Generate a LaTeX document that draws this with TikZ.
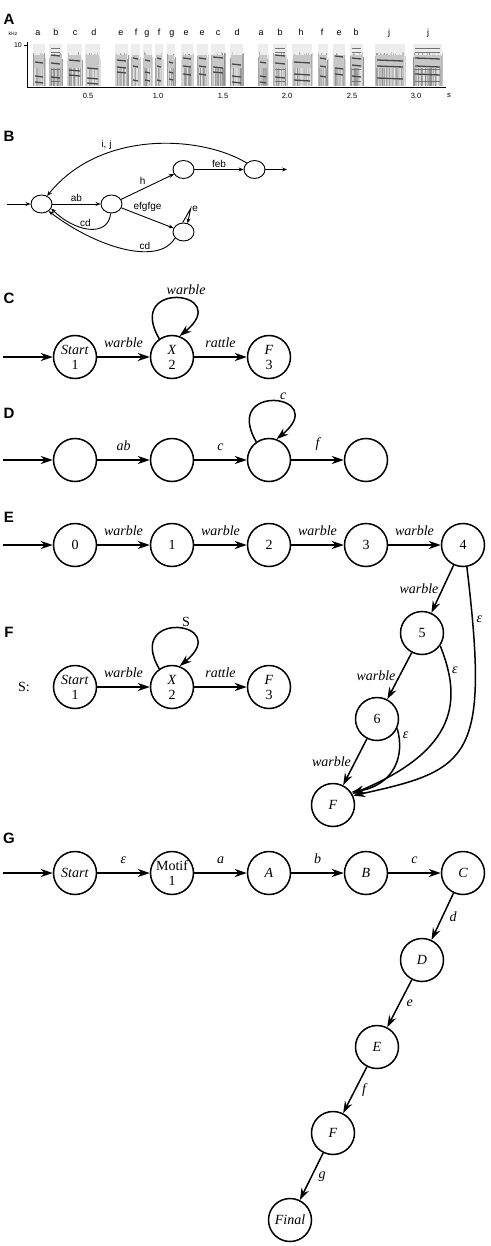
\documentclass[tikz,border=0pt]{standalone}
\usepackage{fontspec}
\setmainfont{Liberation Serif}
\setsansfont{Liberation Sans}
\usetikzlibrary{shapes,shapes.geometric,calc,positioning,arrows.meta}

\begin{document}
\begin{tikzpicture}
	[x=1pt,y=-1pt,
	state/.style={shape=circle,draw,line width=1.5pt,minimum size=43pt,inner sep=0pt,align=center,font=\fontsize{14}{15}\selectfont},
	trans/.style={-{Stealth[length=12pt,width=8pt,inset=4pt]},line width=1.5pt},
	lbl/.style={font=\fontsize{14}{15}\selectfont\itshape},
	bstate/.style={shape=ellipse,draw,line width=0.9pt,minimum width=21pt,minimum height=18pt,inner sep=0pt},
	btrans/.style={-{Stealth[length=5pt,width=4pt]},line width=0.9pt},
	blbl/.style={font=\sffamily\fontsize{10}{10}\selectfont,inner sep=1.5pt},
	blift/.style={above=4pt},
	panel/.style={font=\sffamily\bfseries\fontsize{15}{15}\selectfont}]
	\useasboundingbox (0,0) rectangle (490,1246);

	% A: spectrogram
	\node[panel] (pA) at (9,19) {A};
	\pgfmathsetseed{7}
	\foreach \xa/\xb/\ya/\yb/\yc in {33/45/62/76/82,49/62/55/63/77,67/82/60/70/75,85/100/68/78/83,
		115/128/60/67/72,131/140/58/66/80,143/152/60/72/80,155/163/58/66/80,167/175/62/72/79,
		181/193/58/66/74,197/208/58/66/74,211/225/57/67/72,230/243/64/76/82,258/268/62/76/82,
		273/287/55/63/77,292/312/62/74/80,318/328/58/66/76,333/345/56/68/74,350/363/58/65/76,
		375/405/60/66/78,413/442/58/66/74}{
		\fill[gray!14] (\xa,44) rectangle (\xb,86);
		\foreach \xx in {\xa,...,\xb}{
			\pgfmathsetmacro\gv{int(10+35*rnd)}
			\pgfmathsetmacro\gt{52+8*rnd}
			\draw[black!\gv,line width=0.9pt] (\xx,\gt) -- (\xx,86);
		}
		\fill[black!22] (\xa+1,55) rectangle (\xb-1,68);
		\foreach \yy in {\ya,\yb,\yc}
			\draw[black!72,line width=1.3pt] (\xa+2,\yy) -- (\xb-2,\yy+1);
	}
	\foreach \xa/\xb in {49/62,273/287,350/363,413/442}
		\foreach \yy in {48,52,69,81}
			\draw[black!55,line width=0.8pt] (\xa+2,\yy) -- (\xb-2,\yy);
	\draw[line width=1pt] (27,42) -- (27,88) -- (446,88);
	\draw (24,45) -- (27,45);
	\node[font=\sffamily\fontsize{7}{7}\selectfont] (k10) at (18,45) {10};
	\node[font=\sffamily\fontsize{5}{5}\selectfont] (khz) at (13,34) {kHz};
	\foreach \x/\t in {88/0.5,158/1.0,223/1.5,287/2.0,352/2.5,416/3.0,449/s}
		\node[font=\sffamily\fontsize{7.5}{7.5}\selectfont] at (\x,96) {\t};
	\foreach \x/\t in {38/a,56/b,75/c,94/d,121/e,136/f,147/g,159/f,172/g,186/e,202/e,218/c,237/d,
		261/a,280/b,301/h,322/f,339/e,356/b,389/j,428/j}
		\node[font=\sffamily\fontsize{9}{9}\selectfont,anchor=base] at (\x,35.5) {\t};

	% B
	\node[panel] (pB) at (9,136) {B};
	\node[bstate] (b0) at (41.5,204) {};
	\node[bstate] (b1) at (111.5,204) {};
	\node[bstate] (b2) at (183.5,169.5) {};
	\node[bstate] (b3) at (254.5,169.5) {};
	\node[bstate] (b4) at (183.5,232) {};
	\coordinate (bin) at (7,204);
	\coordinate (bout) at (287,169.5);
	\draw[btrans] (bin) -- (b0);
	\draw[btrans] (b3) -- (bout);
	\path[btrans]
	\foreach \a/\b/\t/\w in {b0/b1/ab/above,b1/b2/h/above left,b2/b3/feb/above,b1/b4/efgfge/blift}{
		(\a) edge node[blbl,\w] {\t} (\b)
	};
	\draw[btrans] (b3.140) .. controls (200,135) and (100,130) .. (b0.55) node[blbl,pos=0.66,above left=0pt] {i, j};
	\draw[btrans] (b1.265) .. controls (108,238) and (75,232) .. (b0.-25) node[blbl,pos=0.55,above] {cd};
	\draw[btrans] (b4.215) .. controls (160,265) and (100,250) .. (b0.-45) node[blbl,pos=0.35,above] {cd};
	\draw[btrans] (b4.95) -- ++(8,-14) coordinate (bloop) -- (b4.65);
	\node[blbl,right] (be) at (bloop) {e};

	% C
	\node[panel] (pC) at (9,298.5) {C};
	\node[state] (c1) at (75,357) {\textit{Start}\\1};
	\node[state] (c2) at (172,357) {\textit{X}\\2};
	\node[state] (c3) at (269,357) {\textit{F}\\3};
	\coordinate (cin) at (3,357);
	\draw[trans] (cin) -- (c1);
	\path[trans]
	\foreach \a/\b/\t in {c1/c2/warble,c2/c3/rattle}{
		(\a) edge node[lbl,above=5pt] {\t} (\b)
	};
	\draw[trans] (c2.125) .. controls +(-35,-60) and +(55,-45) .. (c2.70) node[lbl,pos=0.6,above=2pt] {warble};

	% D
	\node[panel] (pD) at (9,413) {D};
	\node[state] (d1) at (75,460) {};
	\node[state] (d2) at (172,460) {};
	\node[state] (d3) at (269,460) {};
	\node[state] (d4) at (366,460) {};
	\coordinate (din) at (3,460);
	\draw[trans] (din) -- (d1);
	\path[trans]
	\foreach \a/\b/\t in {d1/d2/ab,d2/d3/c,d3/d4/f}{
		(\a) edge node[lbl,above=5pt] {\t} (\b)
	};
	\draw[trans] (d3.125) .. controls +(-35,-60) and +(55,-45) .. (d3.70) node[lbl,pos=0.6,above] {c};

	% E
	\node[panel] (pE) at (9,517) {E};
	\foreach \n/\x in {0/75,1/172,2/269,3/366,4/463}
		\node[state] (e\n) at (\x,545) {\n};
	\node[state] (e5) at (422,633) {5};
	\node[state] (e6) at (377,719) {6};
	\node[state] (eF) at (333,805) {\textit{F}};
	\coordinate (ein) at (3,545);
	\draw[trans] (ein) -- (e0);
	\path[trans]
	\foreach \a/\b in {e0/e1,e1/e2,e2/e3,e3/e4}{
		(\a) edge node[lbl,above=5pt] {warble} (\b)
	};
	\path[trans]
	\foreach \a/\b in {e4/e5,e5/e6,e6/eF}{
		(\a) edge node[lbl,left] {warble} (\b)
	};
	\draw[trans] (e4.-80) .. controls (490,760) and (470,770) .. (eF.25) node[lbl,pos=0.1,right] {ε};
	\draw[trans] (e5.-35) .. controls (462,700) and (458,750) .. (eF.30) node[lbl,pos=0.15,right] {ε};
	\draw[trans] (e6.-25) .. controls (405,755) and (395,785) .. (eF.35) node[lbl,pos=0.08,right] {ε};

	% F
	\node[panel] (pF) at (9,632) {F};
	\node[font=\fontsize{14}{15}\selectfont] (fS) at (24,687) {S:};
	\node[state] (f1) at (75,687) {\textit{Start}\\1};
	\node[state] (f2) at (172,687) {\textit{X}\\2};
	\node[state] (f3) at (269,687) {\textit{F}\\3};
	\path[trans]
	\foreach \a/\b/\t in {f1/f2/warble,f2/f3/rattle}{
		(\a) edge node[lbl,above=5pt] {\t} (\b)
	};
	\draw[trans] (f2.125) .. controls +(-35,-60) and +(55,-45) .. (f2.70) node[lbl,font=\fontsize{14}{15}\selectfont\upshape,pos=0.6,above] {S};

	% G
	\node[panel] (pG) at (9,838) {G};
	\node[state] (g0) at (75,873) {\textit{Start}};
	\node[state] (g1) at (172,873) {Motif\\1};
	\node[state] (gA) at (269,873) {\textit{A}};
	\node[state] (gB) at (366,873) {\textit{B}};
	\node[state] (gC) at (463,873) {\textit{C}};
	\node[state] (gD) at (422,960) {\textit{D}};
	\node[state] (gE) at (377,1047) {\textit{E}};
	\node[state] (gF) at (333,1133) {\textit{F}};
	\node[state] (gZ) at (290,1220) {\textit{Final}};
	\coordinate (gin) at (3,873);
	\draw[trans] (gin) -- (g0);
	\path[trans]
	\foreach \a/\b/\t in {g0/g1/ε,g1/gA/a,gA/gB/b,gB/gC/c}{
		(\a) edge node[lbl,above=5pt] {\t} (\b)
	};
	\path[trans]
	\foreach \a/\b/\t in {gC/gD/d,gD/gE/e,gE/gF/f,gF/gZ/g}{
		(\a) edge node[lbl,right=3pt] {\t} (\b)
	};
\end{tikzpicture}
\end{document}
